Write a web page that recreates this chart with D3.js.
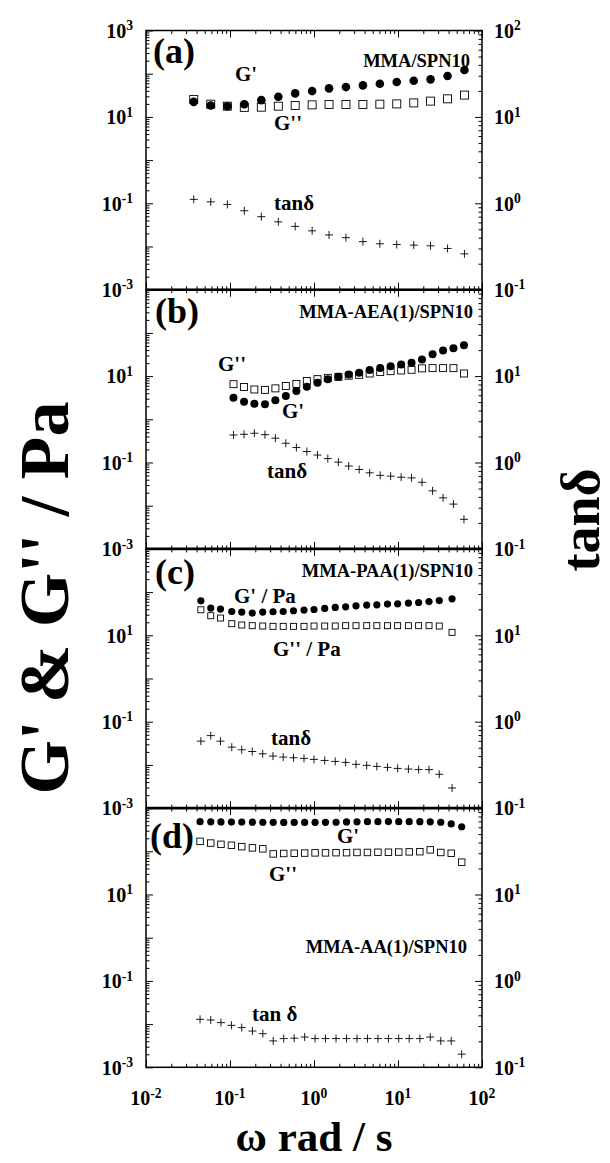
<!DOCTYPE html>
<html>
<head>
<meta charset="utf-8">
<script src="https://cdn.jsdelivr.net/npm/d3@7"></script>
<style>
body { margin: 0; background: #fff; }
svg { display: block; }
text { font-family: "Liberation Serif", "Times New Roman", serif; font-weight: bold; fill: #000; }
</style>
</head>
<body>
<svg></svg>
<script>
// (a) MMA/SPN10
var omegaA = [0.037, 0.059, 0.093, 0.148, 0.236, 0.376, 0.597, 0.95, 1.51, 2.40, 3.82, 6.08, 9.66, 15.4, 24.4, 38.9, 61.8];
var gpA    = [22.3, 18.4, 17.7, 19.7, 24.4, 29.2, 35, 39.6, 45.7, 49, 53.7, 58.5, 64, 68.7, 74, 88.5, 122];
var gppA   = [25.4, 19.7, 17.7, 16.6, 16.8, 17.7, 18.4, 19.0, 19.4, 19.4, 19.4, 19.7, 20.0, 21.1, 23.2, 26.2, 32];
var tanA   = [1.11, 1.04, 0.97, 0.82, 0.70, 0.61, 0.54, 0.48, 0.43, 0.40, 0.36, 0.34, 0.333, 0.328, 0.322, 0.30, 0.26];

// (b) MMA-AEA(1)/SPN10
var omegaB = [0.110, 0.147, 0.195, 0.261, 0.347, 0.462, 0.617, 0.822, 1.10, 1.46, 1.95, 2.59, 3.45, 4.60, 6.14, 8.17, 10.9, 14.5, 19.3, 25.8, 34.4, 45.7, 61.0];
var gpB    = [3.15, 2.55, 2.29, 2.22, 2.75, 3.45, 4.5, 5.7, 7.0, 8.4, 9.6, 10.9, 11.9, 13.8, 15.3, 17.0, 18.6, 20.3, 24.3, 32.2, 39.2, 44.4, 52];
var gppB   = [6.5, 5.6, 4.9, 4.8, 5.2, 5.9, 6.6, 7.7, 8.5, 9.1, 9.6, 10.2, 10.7, 11.5, 12.4, 13.0, 13.5, 14.0, 15.1, 15.3, 15.3, 15.3, 11.5];
var tanB   = [2.08, 2.12, 2.18, 2.10, 1.91, 1.67, 1.49, 1.34, 1.22, 1.11, 1.01, 0.91, 0.83, 0.76, 0.71, 0.695, 0.676, 0.664, 0.59, 0.47, 0.39, 0.33, 0.22];

// (c) MMA-PAA(1)/SPN10
var omegaC = [0.045, 0.059, 0.077, 0.105, 0.138, 0.184, 0.245, 0.325, 0.43, 0.57, 0.76, 1.0, 1.34, 1.79, 2.38, 3.16, 4.24, 5.6, 7.5, 9.9, 13.3, 17.6, 23.4, 31.0, 44];
var gpC    = [62.8, 42.7, 40.5, 35.6, 34.5, 32.7, 34.5, 35.1, 35.6, 37.0, 38.4, 39.6, 41.8, 44.1, 45.7, 48.2, 50, 50.8, 52.7, 53.6, 55.6, 57.4, 60.5, 63.8, 69.8];
var gppC   = [39.0, 28.4, 25.1, 18.6, 17.3, 16.7, 16.4, 16.1, 16.1, 16.1, 16.1, 16.4, 16.4, 16.4, 16.7, 16.7, 16.7, 16.7, 16.7, 16.7, 16.7, 16.7, 16.7, 16.4, 11.7];
var tanC   = [0.595, 0.69, 0.595, 0.508, 0.473, 0.452, 0.425, 0.40, 0.39, 0.383, 0.376, 0.366, 0.356, 0.347, 0.338, 0.321, 0.312, 0.304, 0.296, 0.288, 0.283, 0.279, 0.279, 0.246, 0.171];

// (d) MMA-AA(1)/SPN10
var omegaD = [0.044, 0.059, 0.078, 0.104, 0.138, 0.185, 0.246, 0.327, 0.436, 0.581, 0.774, 1.03, 1.37, 1.83, 2.44, 3.25, 4.33, 5.77, 7.69, 10.2, 13.6, 18.2, 24.2, 32.3, 43.0, 57.3];
var gpD    = [485, 480, 478, 476, 474, 472, 470, 468, 467, 466, 465, 466, 468, 470, 478, 482, 485, 486, 487, 486, 485, 484, 480, 470, 430, 370];
var gppD   = [170, 155, 145, 138, 128, 120, 114, 87, 89, 90, 91, 92, 92, 93, 93, 94, 94, 95, 95, 96, 97, 98, 108, 94, 90, 56];
var tanD   = [0.359, 0.353, 0.329, 0.306, 0.288, 0.263, 0.245, 0.202, 0.215, 0.217, 0.224, 0.215, 0.215, 0.215, 0.215, 0.215, 0.215, 0.215, 0.215, 0.215, 0.215, 0.215, 0.224, 0.202, 0.202, 0.142];

var panelNames = ["(a)", "(b)", "(c)", "(d)"];
var sampleNames = ["MMA/SPN10", "MMA-AEA(1)/SPN10", "MMA-PAA(1)/SPN10", "MMA-AA(1)/SPN10"];

// tick values
var xDecades = [0.01, 0.1, 1, 10, 100];
var gDecades = [1e-3, 1e-2, 1e-1, 1, 10, 100, 1000];
var gLabelled = [1e-3, 1e-1, 10, 1000];
var tDecades = [0.1, 1, 10, 100];

var width = 610,
    height = 1163,
    left = 146,
    right = 482,
    top0 = 30.5,
    panelH = 259.2;

var svg = d3.select("svg")
    .attr("width", width)
    .attr("height", height);

var x = d3.scaleLog().domain([0.01, 100]).range([left, right]);

function minors(decades) {
    var out = [];
    decades.slice(0, -1).forEach(d => {
        for (var k = 2; k <= 9; k++) out.push(d * k);
    });
    return out;
}

// "10" with a superscript exponent
function pow10(sel) {
    sel.each(function(d) {
        var t = d3.select(this).text(null);
        t.append("tspan").text("10");
        t.append("tspan")
            .attr("dy", "-0.55em")
            .attr("font-size", "0.68em")
            .text(Math.round(Math.log10(d)));
    });
}

// annotation positions, relative to each panel top
var notes = [
    [
        { t: panelNames[0], x: 153, y: 32, s: 36 },
        { t: sampleNames[0], x: 470, y: 36, s: 18.5, a: "end" },
        { t: "G'", x: 235, y: 50.5, s: 21 },
        { t: "G''", x: 274, y: 99.5, s: 21 },
        { t: "tanδ", x: 274, y: 179, s: 21 }
    ],
    [
        { t: panelNames[1], x: 155, y: 33, s: 36 },
        { t: sampleNames[1], x: 473, y: 28, s: 18.5, a: "end" },
        { t: "G''", x: 218, y: 81, s: 21 },
        { t: "G'", x: 282, y: 128, s: 21 },
        { t: "tanδ", x: 267, y: 188, s: 21 }
    ],
    [
        { t: panelNames[2], x: 155, y: 35, s: 36 },
        { t: sampleNames[2], x: 473, y: 28, s: 18.5, a: "end" },
        { t: "G' / Pa", x: 234, y: 54.5, s: 21 },
        { t: "G'' / Pa", x: 273, y: 107.5, s: 21 },
        { t: "tanδ", x: 271, y: 196.5, s: 21 }
    ],
    [
        { t: panelNames[3], x: 150, y: 40, s: 36 },
        { t: "G'", x: 337, y: 35, s: 21 },
        { t: "G''", x: 269, y: 73, s: 21 },
        { t: sampleNames[3], x: 467, y: 144.5, s: 18.5, a: "end" },
        { t: "tan δ", x: 252, y: 212.5, s: 21 }
    ]
];

var panels = [
    { omega: omegaA, gp: gpA, gpp: gppA, tan: tanA, r: 4.3, sq: 8 },
    { omega: omegaB, gp: gpB, gpp: gppB, tan: tanB, r: 4, sq: 7 },
    { omega: omegaC, gp: gpC, gpp: gppC, tan: tanC, r: 3.6, sq: 6 },
    { omega: omegaD, gp: gpD, gpp: gppD, tan: tanD, r: 3.6, sq: 6.5 }
];

panels.forEach((p, i) => {
    var y0 = top0 + i * panelH,
        y1 = y0 + panelH;

    var yL = d3.scaleLog().domain([1e-3, 1e3]).range([y1, y0]);
    var yR = d3.scaleLog().domain([0.1, 100]).range([y1, y0]);

    var g = svg.append("g");

    // ticks, all pointing inward
    function ticks(axis, vals, len, tr) {
        g.append("g")
            .attr("transform", tr)
            .call(axis.tickValues(vals).tickSizeInner(-len).tickSizeOuter(0).tickFormat(""))
            .call(s => s.select(".domain").remove())
            .selectAll("line").attr("stroke", "#000").attr("stroke-width", 1);
    }
    ticks(d3.axisLeft(yL), gDecades, 7, "translate(" + left + ",0)");
    ticks(d3.axisLeft(yL), minors(gDecades), 3.5, "translate(" + left + ",0)");
    ticks(d3.axisRight(yR), tDecades, 7, "translate(" + right + ",0)");
    ticks(d3.axisRight(yR), minors(tDecades), 3.5, "translate(" + right + ",0)");
    ticks(d3.axisBottom(x), xDecades, 7, "translate(0," + y1 + ")");
    ticks(d3.axisBottom(x), minors(xDecades), 3.5, "translate(0," + y1 + ")");
    ticks(d3.axisTop(x), xDecades, 7, "translate(0," + y0 + ")");
    ticks(d3.axisTop(x), minors(xDecades), 3.5, "translate(0," + y0 + ")");

    g.append("rect")
        .attr("x", left)
        .attr("y", y0)
        .attr("width", right - left)
        .attr("height", panelH)
        .attr("fill", "none")
        .attr("stroke", "#000")
        .attr("stroke-width", 1.5);

    // tick labels (top one only on the first panel)
    var gl = gLabelled.filter(v => i == 0 || v < 1000);
    g.selectAll(".ylab")
        .data(gl)
        .enter().append("text")
        .attr("class", "ylab")
        .attr("x", left - 13)
        .attr("y", d => yL(d))
        .attr("dy", "0.36em")
        .attr("text-anchor", "end")
        .attr("font-size", 20)
        .call(pow10);

    var tl = tDecades.filter(v => i == 0 || v < 100);
    g.selectAll(".rlab")
        .data(tl)
        .enter().append("text")
        .attr("class", "rlab")
        .attr("x", right + 12)
        .attr("y", d => yR(d))
        .attr("dy", "0.36em")
        .attr("font-size", 20)
        .call(pow10);

    var idx = d3.range(p.omega.length);

    g.selectAll(".gpp")
        .data(idx)
        .enter().append("rect")
        .attr("x", j => x(p.omega[j]) - p.sq / 2)
        .attr("y", j => yL(p.gpp[j]) - p.sq / 2)
        .attr("width", p.sq)
        .attr("height", p.sq)
        .attr("fill", "#fff")
        .attr("stroke", "#000")
        .attr("stroke-width", 0.9);

    g.selectAll(".gp")
        .data(idx)
        .enter().append("circle")
        .attr("cx", j => x(p.omega[j]))
        .attr("cy", j => yL(p.gp[j]))
        .attr("r", p.r)
        .attr("fill", "#000");

    g.selectAll(".tan")
        .data(idx)
        .enter().append("path")
        .attr("transform", j => "translate(" + x(p.omega[j]) + "," + yR(p.tan[j]) + ")")
        .attr("d", "M-4,0H4M0,-4V4")
        .attr("stroke", "#000")
        .attr("stroke-width", 0.9)
        .attr("fill", "none");

    notes[i].forEach(n => {
        g.append("text")
            .attr("x", n.x)
            .attr("y", y0 + n.y)
            .attr("font-size", n.s)
            .attr("text-anchor", n.a || "start")
            .text(n.t);
    });
});

// heavier lines where panels meet
for (var k = 1; k < 4; k++) {
    svg.append("line")
        .attr("x1", left).attr("x2", right)
        .attr("y1", top0 + k * panelH).attr("y2", top0 + k * panelH)
        .attr("stroke", "#000")
        .attr("stroke-width", 2.6);
}

var yBottom = top0 + 4 * panelH;

svg.selectAll(".xlab")
    .data(xDecades)
    .enter().append("text")
    .attr("class", "xlab")
    .attr("x", d => x(d))
    .attr("y", yBottom + 38)
    .attr("text-anchor", "middle")
    .attr("font-size", 20)
    .call(pow10);

svg.append("text")
    .attr("x", (left + right) / 2)
    .attr("y", 1151)
    .attr("text-anchor", "middle")
    .attr("font-size", 43)
    .text("ω rad / s");

svg.append("text")
    .attr("transform", "translate(68,598) rotate(-90)")
    .attr("text-anchor", "middle")
    .attr("font-size", 70)
    .text("G' & G'' / Pa");

svg.append("text")
    .attr("transform", "translate(599,520) rotate(-90)")
    .attr("text-anchor", "middle")
    .attr("font-size", 54)
    .text("tanδ");
</script>
</body>
</html>
